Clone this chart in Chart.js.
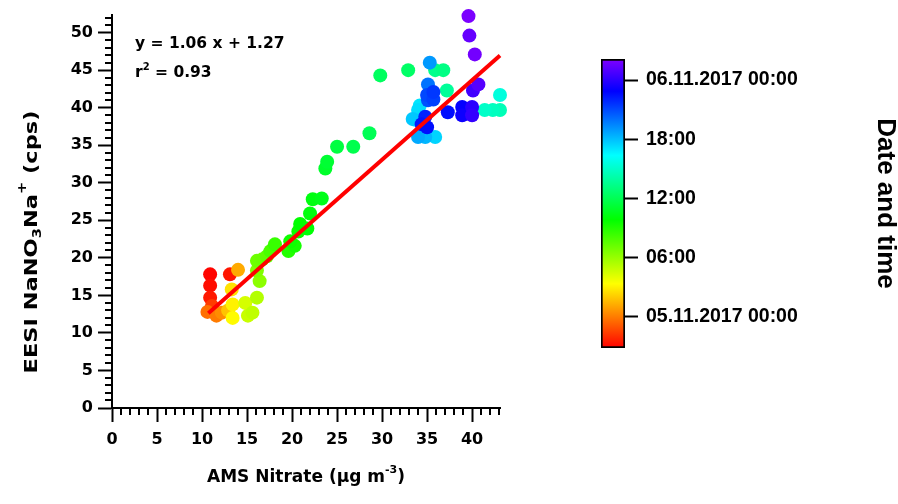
<!DOCTYPE html>
<html>
<head>
<meta charset="utf-8">
<script src="https://cdn.jsdelivr.net/npm/chart.js@4.4.0/dist/chart.umd.min.js"></script>
<style>
  html, body { margin: 0; padding: 0; background: #fff; }
  #wrap { position: relative; width: 898px; height: 504px; overflow: hidden; background: #fff; }
  #scatter { position: absolute; left: 0; top: 0; }
  #colorbar { position: absolute; left: 560px; top: 0; }
</style>
</head>
<body>
<div id="wrap">
  <canvas id="scatter" width="560" height="504"></canvas>
  <canvas id="colorbar" width="338" height="504"></canvas>
</div>
<script>
// AMS nitrate (µg m-3), EESI NaNO3Na+ (cps), time in hours after 05.11.2017 00:00
const nitrate = [10.9, 13.1, 10.9, 10.9, 11.1, 10.6, 11.6, 12.2, 14.0, 12.9,
                 13.3, 13.4, 13.4, 14.8, 15.1, 15.6, 16.1, 16.4, 16.1, 16.1,
                 16.7, 17.2, 17.6, 18.1, 19.6, 20.3, 19.8, 20.7, 20.9, 21.7,
                 22.0, 22.3, 23.3, 23.7, 23.9, 25.0, 26.8, 28.6, 29.8, 32.9,
                 35.9, 36.8, 37.2, 43.1, 42.3, 41.4, 43.1, 34.2, 34.0, 33.7,
                 33.4, 35.9, 34.8, 34.0, 35.3, 35.1, 35.1, 35.0, 35.7, 35.7,
                 34.8, 34.4, 37.3, 35.0, 38.9, 38.9, 40.0, 40.0, 40.1, 40.7,
                 39.7, 40.3, 39.6];
const eesi = [17.8, 17.8, 16.3, 14.7, 13.6, 12.8, 12.3, 12.7, 18.4, 13.0,
              15.8, 13.8, 12.0, 14.0, 12.3, 12.7, 14.7, 16.9, 18.3, 19.6,
              19.8, 20.2, 20.9, 21.8, 20.9, 21.6, 22.2, 23.5, 24.5, 23.9,
              25.9, 27.8, 27.9, 31.9, 32.8, 34.8, 34.8, 36.6, 44.3, 45.0,
              45.0, 45.0, 42.3, 39.7, 39.7, 39.7, 41.7, 40.3, 39.7, 38.4,
              38.5, 36.1, 36.1, 36.1, 46.0, 43.1, 41.0, 41.7, 41.1, 42.1,
              38.8, 37.8, 39.4, 37.4, 40.1, 39.0, 40.1, 39.0, 42.3, 43.1,
              49.6, 47.1, 52.2];
const hours = [-3.0, -2.6, -2.8, -2.5, -1.6, -0.3, 0.0, 0.4, 1.2, 1.8,
               2.6, 3.0, 3.3, 4.5, 4.8, 5.0, 5.3, 6.3, 6.6, 7.0,
               7.2, 7.5, 8.0, 8.5, 9.0, 9.3, 9.5, 9.7, 9.9, 10.0,
               10.2, 10.3, 10.5, 11.0, 11.2, 11.5, 11.8, 12.0, 12.3, 12.5,
               13.5, 13.2, 13.8, 14.5, 14.8, 15.0, 15.5, 17.0, 17.2, 17.3,
               17.8, 17.5, 18.2, 18.5, 19.0, 20.0, 20.8, 21.0, 21.3, 21.5,
               22.0, 22.3, 22.5, 22.6, 23.0, 23.2, 24.0, 24.2, 24.5, 25.0,
               25.5, 25.8, 26.0];

// linear fit
const fitSlope = 1.06;
const fitIntercept = 1.27;
const fitR2 = 0.93;
const fitRange = [10.7, 43.1];

// colour scale
const timeRange = [-3.14, 26.13];
const timeTickHours = [0, 6, 12, 18, 24];
const timeTickLabels = ['05.11.2017 00:00', '06:00', '12:00', '18:00', '06.11.2017 00:00'];

const tickFont = { family: 'DejaVu Sans', weight: 'bold', size: 16 };

function timeColor(h) {
  let f = (h - timeRange[0]) / (timeRange[1] - timeRange[0]);
  f = Math.min(1, Math.max(0, f));
  return 'hsl(' + Math.round(270 * f) + ', 100%, 50%)';
}

// draw text pieces with sub/superscripts, anchored at baseline
function drawRuns(ctx, runs, family, x, baseline, align, targetWidth) {
  let total = 0;
  runs.forEach(r => {
    ctx.font = 'bold ' + r.size + 'px "' + family + '"';
    r.w = ctx.measureText(r.text).width;
    total += r.w;
  });
  const k = targetWidth ? targetWidth / total : 1;
  ctx.save();
  ctx.translate(x, baseline);
  ctx.scale(k, 1);
  ctx.fillStyle = '#000';
  ctx.textBaseline = 'alphabetic';
  ctx.textAlign = 'left';
  let cx = align === 'center' ? -total / 2 : 0;
  runs.forEach(r => {
    ctx.font = 'bold ' + r.size + 'px "' + family + '"';
    ctx.fillText(r.text, cx, r.dy || 0);
    cx += r.w;
  });
  ctx.restore();
}

const minorTicks = {
  id: 'minorTicks',
  afterDraw(chart) {
    const { ctx, scales: { x, y } } = chart;
    ctx.save();
    ctx.strokeStyle = '#000';
    ctx.lineWidth = 2;
    ctx.beginPath();
    for (let v = Math.ceil(x.min); v <= x.max; v++) {
      if (v % 5 === 0) continue;
      const px = Math.round(x.getPixelForValue(v));
      ctx.moveTo(px, x.top);
      ctx.lineTo(px, x.top + 7);
    }
    for (let v = Math.ceil(y.min); v <= y.max; v++) {
      if (v % 5 === 0) continue;
      const py = Math.round(y.getPixelForValue(v));
      ctx.moveTo(y.right - 7, py);
      ctx.lineTo(y.right, py);
    }
    ctx.stroke();
    ctx.restore();
  }
};

const labels = {
  id: 'labels',
  afterDraw(chart) {
    const ctx = chart.ctx;
    const area = chart.chartArea;
    // fit text
    drawRuns(ctx, [{ text: 'y = ' + fitSlope.toFixed(2) + ' x + ' + fitIntercept.toFixed(2), size: 15.5 }],
      'DejaVu Sans', 135, 48, 'left');
    drawRuns(ctx, [
      { text: 'r', size: 15.5 },
      { text: '2', size: 10, dy: -7 },
      { text: ' = ' + fitR2.toFixed(2), size: 15.5 }
    ], 'DejaVu Sans', 135, 77, 'left');
    // x title
    drawRuns(ctx, [
      { text: 'AMS Nitrate (\u00b5g m', size: 17 },
      { text: '-3', size: 11, dy: -9 },
      { text: ')', size: 17 }
    ], 'DejaVu Sans', (area.left + area.right) / 2, 482, 'center');
    // y title
    ctx.save();
    ctx.translate(37, 242);
    ctx.rotate(-Math.PI / 2);
    drawRuns(ctx, [
      { text: 'EESI NaNO', size: 18.5 },
      { text: '3', size: 12, dy: 4 },
      { text: 'Na', size: 18.5 },
      { text: '+', size: 12, dy: -11 },
      { text: ' (cps)', size: 18.5 }
    ], 'DejaVu Sans', 0, 0, 'center', 263);
    ctx.restore();
  }
};

new Chart(document.getElementById('scatter'), {
  type: 'scatter',
  data: {
    datasets: [
      {
        data: fitRange.map(v => ({ x: v, y: fitSlope * v + fitIntercept })),
        showLine: true,
        borderColor: '#ff0000',
        borderWidth: 4,
        pointRadius: 0,
        clip: false
      },
      {
        data: nitrate.map((v, i) => ({ x: v, y: eesi[i] })),
        pointBackgroundColor: hours.map(timeColor),
        pointBorderWidth: 0,
        pointRadius: 7,
        pointHoverRadius: 7,
        clip: false
      }
    ]
  },
  options: {
    responsive: false,
    animation: false,
    devicePixelRatio: 1,
    layout: { padding: { top: 12, right: 60, left: 0, bottom: 0 } },
    plugins: { legend: { display: false }, tooltip: { enabled: false } },
    scales: {
      x: {
        type: 'linear',
        min: 0,
        max: 43.1,
        afterFit: s => { s.height = 96; },
        ticks: { stepSize: 5, includeBounds: false, color: '#000', font: tickFont, padding: 8, maxRotation: 0 },
        grid: { display: true, drawOnChartArea: false, tickLength: 14, tickWidth: 2, tickColor: '#000' },
        border: { display: true, color: '#000', width: 2 }
      },
      y: {
        type: 'linear',
        min: 0,
        max: 52.4,
        afterFit: s => { s.width = 112; },
        ticks: { stepSize: 5, includeBounds: false, color: '#000', font: tickFont, padding: 5 },
        grid: { display: true, drawOnChartArea: false, tickLength: 14, tickWidth: 2, tickColor: '#000' },
        border: { display: true, color: '#000', width: 2 }
      }
    }
  },
  plugins: [minorTicks, labels]
});

function barGradient(context) {
  const chart = context.chart;
  if (!chart.chartArea) return '#ffffff';
  const ys = chart.scales.y;
  const g = chart.ctx.createLinearGradient(0, ys.getPixelForValue(timeRange[0]), 0, ys.getPixelForValue(timeRange[1]));
  for (let i = 0; i <= 27; i++) {
    g.addColorStop(i / 27, 'hsl(' + (i * 10) + ', 100%, 50%)');
  }
  return g;
}

new Chart(document.getElementById('colorbar'), {
  type: 'bar',
  data: {
    labels: [''],
    datasets: [{
      data: [timeRange],
      backgroundColor: barGradient,
      borderColor: '#000',
      borderWidth: 2,
      borderSkipped: false,
      barPercentage: 1,
      categoryPercentage: 1
    }]
  },
  options: {
    responsive: false,
    animation: false,
    devicePixelRatio: 1,
    layout: { padding: { left: 41, top: 59, bottom: 156, right: 0 } },
    plugins: { legend: { display: false }, tooltip: { enabled: false } },
    scales: {
      x: { display: false },
      y: {
        position: 'right',
        min: timeRange[0],
        max: timeRange[1],
        afterFit: s => { s.width = 273; },
        afterBuildTicks: s => { s.ticks = timeTickHours.map(v => ({ value: v })); },
        ticks: {
          callback: (v, i) => timeTickLabels[i],
          autoSkip: false,
          color: '#000',
          font: { family: 'Liberation Sans', weight: 'bold', size: 19.5 },
          padding: 8
        },
        grid: { display: true, drawOnChartArea: false, tickLength: 13, tickWidth: 2, tickColor: '#000' },
        border: { display: false },
        title: {
          display: true,
          text: 'Date and time',
          color: '#000',
          font: { family: 'Liberation Sans', weight: 'bold', size: 26, lineHeight: 1 },
          padding: 0
        }
      }
    }
  }
});
</script>
</body>
</html>
